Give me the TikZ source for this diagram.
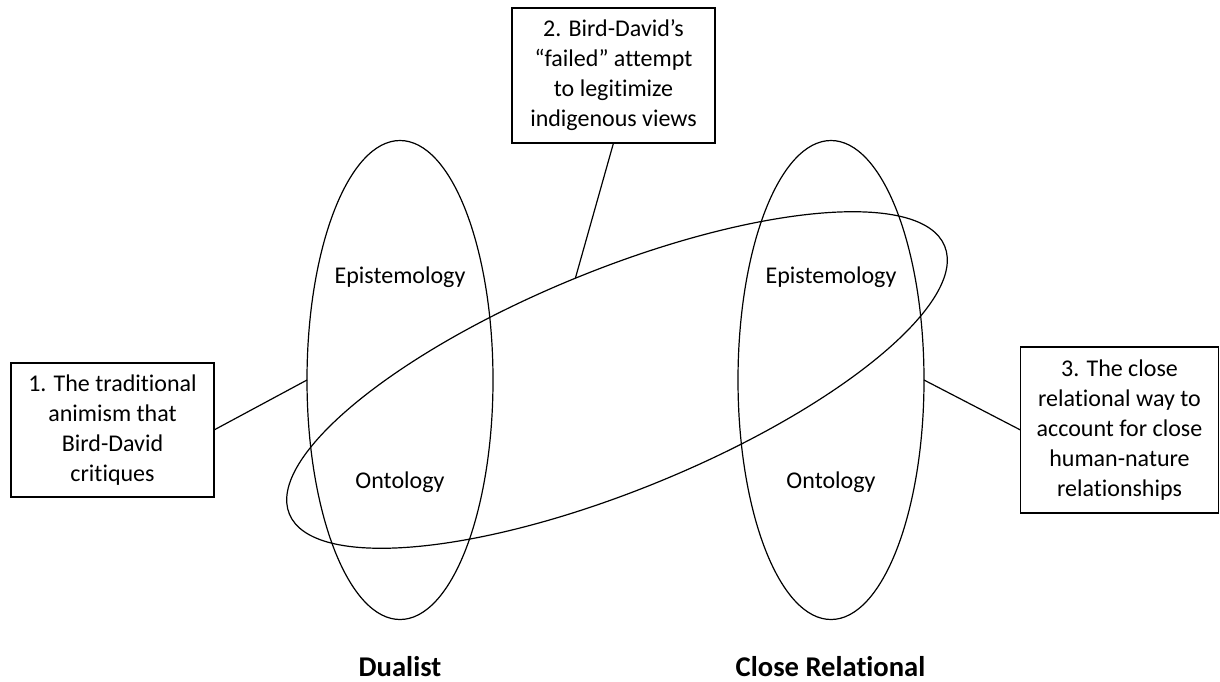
\documentclass[tikz,border=0pt]{standalone}
\usepackage{fontspec}
\setmainfont{Carlito}[Ligatures={NoCommon}]
\usetikzlibrary{shapes.geometric}
\tikzset{
  x=1pt, y=1pt,
  oval/.style={draw, ellipse, line width=1.2pt, inner sep=0pt, outer sep=0pt},
  notebox/.style={draw, line width=1.2pt, align=center, inner sep=0pt, outer sep=0pt,
    font=\fontsize{24}{30}\selectfont},
  lbl/.style={font=\fontsize{24}{30}\selectfont},
  title/.style={font=\fontsize{28.6}{34}\selectfont\bfseries, anchor=base},
  link/.style={line width=1.2pt}
}
\begin{document}
\begin{tikzpicture}
\useasboundingbox (0,0) rectangle (1220,-681);
% ellipses
\node[oval, minimum width=186pt, minimum height=479pt] (L) at (400,-380) {};
\node[oval, minimum width=186pt, minimum height=479pt] (R) at (831,-380) {};
\node[oval, minimum width=708pt, minimum height=220pt, rotate=22.24] (T) at (617,-380) {};
% labels
\node[lbl] (le) at (400,-277) {Epistemology};
\node[lbl] (lo) at (400,-482) {Ontology};
\node[lbl] (re) at (831,-277) {Epistemology};
\node[lbl] (ro) at (831,-482) {Ontology};
\node[title] (dual) at (400,-676) {Dualist};
\node[title] (close) at (830.5,-676) {Close Relational};
% boxes
\node[notebox, minimum width=203pt, minimum height=134pt] (b1) at (112.5,-430)
  {1. The traditional\\animism that\\Bird-David\\critiques};
\node[notebox, minimum width=203pt, minimum height=135pt] (b2) at (613.5,-75.5)
  {2. Bird-David’s\\“failed” attempt\\to legitimize\\indigenous views};
\node[notebox, minimum width=198pt, minimum height=166pt] (b3) at (1119.5,-430)
  {3. The close\\relational way to\\account for close\\human-nature\\relationships};
% connectors
\draw[link] (b1.east) -- (L.west);
\draw[link] (b2.south) -- (T.north);
\draw[link] (b3.west) -- (R.east);
\end{tikzpicture}
\end{document}
